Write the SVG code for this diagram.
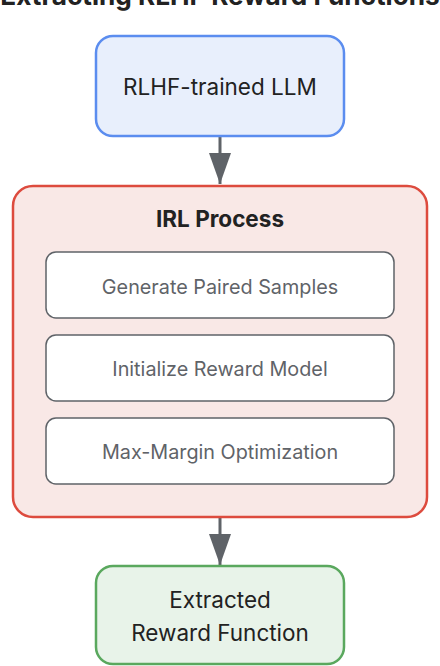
<svg xmlns="http://www.w3.org/2000/svg" width="440" height="666" viewBox="0 0 440 666">
<defs>
<style>
.t{font-family:Inter,"Liberation Sans",sans-serif;text-anchor:middle}
.main{font-size:22.5px;fill:#222}
.step{font-size:19.8px;fill:#5f6368}
.bold{font-weight:700}
.sub{fill:#fff;stroke:#5f6368;stroke-width:1.5}
.conn{stroke:#5f6368;stroke-width:3;fill:none}
</style>
<marker id="ah" markerUnits="userSpaceOnUse" markerWidth="32" markerHeight="24" refX="31" refY="12" orient="auto" viewBox="0 0 32 24">
<path d="M0,1 L31,12 L0,23 Z" fill="#5f6368"/>
</marker>
</defs>
<rect width="440" height="666" fill="#fff"/>
<text class="t bold" x="220" y="4.5" font-size="26.2" fill="#222">Extracting RLHF Reward Functions</text>
<g id="connectors">
<line class="conn" x1="220" y1="137" x2="220" y2="184" marker-end="url(#ah)"/>
<line class="conn" x1="220" y1="517" x2="220" y2="565" marker-end="url(#ah)"/>
</g>
<g id="llm">
<rect x="96" y="36" width="248" height="100" rx="17" fill="#e8effc" stroke="#5b8def" stroke-width="2.5"/>
<text class="t main" x="220" y="95">RLHF-trained LLM</text>
</g>
<g id="irl">
<rect x="13" y="186" width="414" height="331" rx="20" fill="#f9e8e6" stroke="#dd4b3e" stroke-width="2.5"/>
<text class="t main bold" x="220" y="227">IRL Process</text>
</g>
<g id="step1">
<rect class="sub" x="46" y="252" width="348" height="66" rx="10"/>
<text class="t step" x="220" y="294">Generate Paired Samples</text>
</g>
<g id="step2">
<rect class="sub" x="46" y="335" width="348" height="66" rx="10"/>
<text class="t step" x="220" y="376">Initialize Reward Model</text>
</g>
<g id="step3">
<rect class="sub" x="46" y="418" width="348" height="66" rx="10"/>
<text class="t step" x="220" y="459">Max-Margin Optimization</text>
</g>
<g id="reward">
<rect x="96" y="566" width="248" height="98" rx="17" fill="#e8f3e9" stroke="#5aa85e" stroke-width="2.5"/>
<text class="t main" x="220" y="608">Extracted</text>
<text class="t main" x="220" y="641">Reward Function</text>
</g>
</svg>
